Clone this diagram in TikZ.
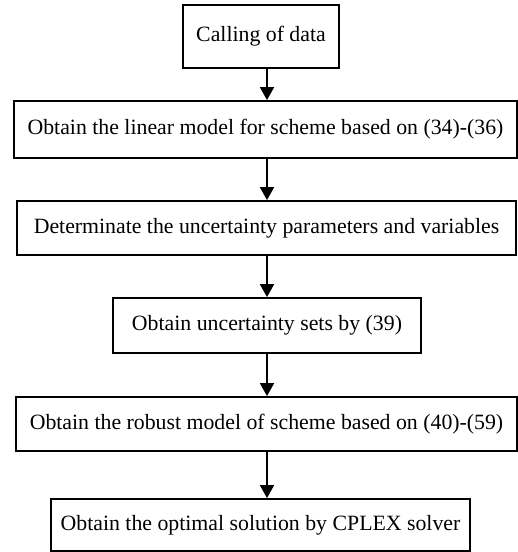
\documentclass[tikz,border=0pt]{standalone}
\usepackage{fontspec}
\setmainfont{Liberation Serif}
\usetikzlibrary{arrows.meta}

\begin{document}
\begin{tikzpicture}[x=0.5pt,y=-0.5pt,
 box/.style={draw,line width=0.9pt,inner sep=0pt,font=\fontsize{10.9}{13}\selectfont},
 flow/.style={line width=0.9pt,-{Triangle[width=7pt,length=6.5pt]}}]
 \useasboundingbox (0,0) rectangle (518,552);
 \node[box,minimum width=78pt,minimum height=31.5pt] (call) at (261,36.5) {Calling of data};
 \node[box,minimum width=251.5pt,minimum height=28.5pt] (linear) at (265.5,129.5) {Obtain the linear model for scheme based on (34)-(36)};
 \node[box,minimum width=249.5pt,minimum height=27pt] (uncert) at (266.5,228) {Determinate the uncertainty parameters and variables};
 \node[box,minimum width=154pt,minimum height=27.5pt] (sets) at (267,325.5) {Obtain uncertainty sets by (39)};
 \node[box,minimum width=250.5pt,minimum height=27pt] (robust) at (266.5,424) {Obtain the robust model of scheme based on (40)-(59)};
 \node[box,minimum width=209.5pt,minimum height=26pt] (optimal) at (260.5,525) {Obtain the optimal solution by CPLEX solver};
 \coordinate (spine) at (267,0);
 \draw[flow] (call.south -| spine) -- (linear.north -| spine);
 \draw[flow] (linear.south -| spine) -- (uncert.north -| spine);
 \draw[flow] (uncert.south -| spine) -- (sets.north -| spine);
 \draw[flow] (sets.south -| spine) -- (robust.north -| spine);
 \draw[flow] (robust.south -| spine) -- (optimal.north -| spine);
\end{tikzpicture}
\end{document}
